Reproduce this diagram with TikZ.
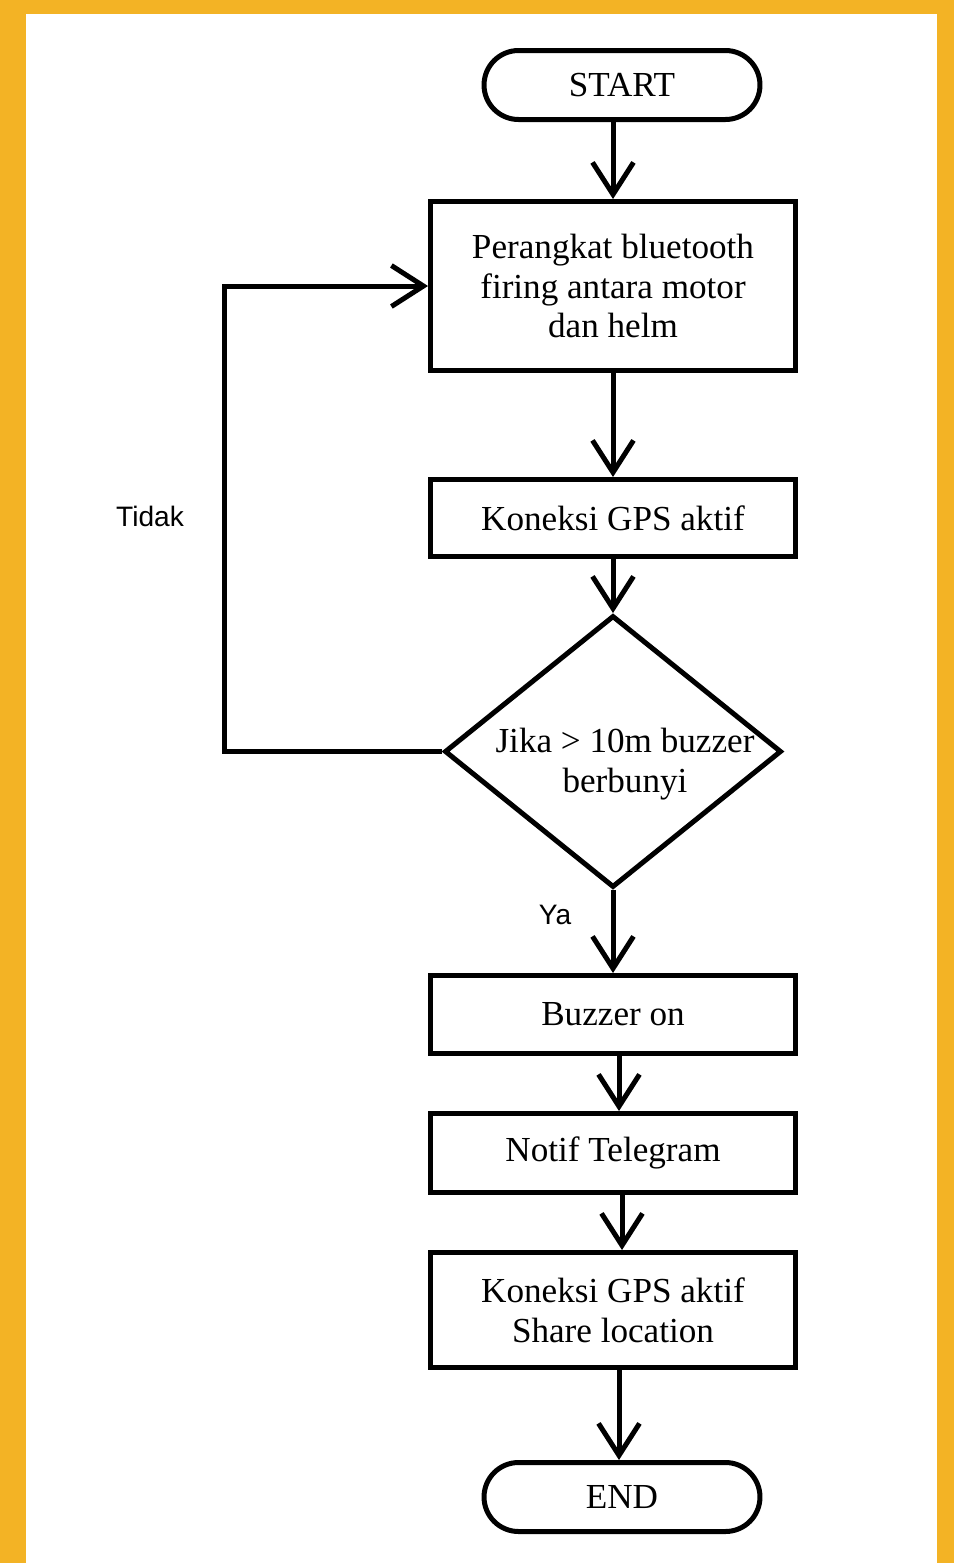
\documentclass[tikz,border=0pt]{standalone}
\usepackage{fontspec}
\setmainfont{Liberation Serif}
\setsansfont{Liberation Sans}
\usetikzlibrary{arrows.meta,shapes.misc,shapes.geometric}
\definecolor{oranye}{HTML}{F3B325}
\tikzset{
  garis/.style={line width=0.1cm},
  panah/.style={garis, -{Straight Barb[length=0.64cm,width=0.82cm]}},
  terminal/.style={rounded rectangle, draw, garis, minimum width=5.52cm, minimum height=1.38cm, inner sep=0pt, font=\fontsize{20}{22.7}\selectfont},
  proses/.style={rectangle, draw, garis, minimum width=7.3cm, inner sep=0pt, align=center, font=\fontsize{20}{22.7}\selectfont},
  keputusan/.style={diamond, draw, garis, minimum width=6.74cm, minimum height=5.44cm, inner sep=0pt},
  keterangan/.style={font=\sffamily\fontsize{16}{19}\selectfont}
}
\begin{document}
\begin{tikzpicture}[x=0.02cm, y=-0.02cm]
% latar
\useasboundingbox (0,0) rectangle (954,1563);
\fill[oranye] (0,0) rectangle (954,1563);
\fill[white] (26,14) rectangle (937,1563);
% mulai
\node[terminal] (start) at (622,85) {START};
% proses
\node[proses, minimum height=3.38cm] (p1) at (613,286) {Perangkat bluetooth\\firing antara motor\\dan helm};
\node[proses, minimum height=1.54cm] (p2) at (613,518) {Koneksi GPS aktif};
% keputusan
\node[keputusan] (cek) at (613,751.5) {};
\node[align=center, font=\fontsize{20}{22.7}\selectfont] (cekteks) at (625,764) {Jika > 10m buzzer\\berbunyi};
% output
\node[proses, minimum height=1.56cm] (b3) at (613,1014.5) {Buzzer on};
\node[proses, minimum height=1.58cm] (b4) at (613,1153) {Notif Telegram};
\node[proses, minimum height=2.3cm] (b5) at (613,1310) {Koneksi GPS aktif\\Share location};
% selesai
\node[terminal] (end) at (622,1497) {END};
% panah
\draw[panah] (start.south -| p1) -- (p1.north);
\draw[panah] (p1.south) -- (p2.north);
\draw[panah] (p2.south) -- (cek.north);
\draw[panah] (cek.south) -- (b3.north);
\draw[panah] ([xshift=0.12cm]b3.south) -- ([xshift=0.12cm]b4.north);
\draw[panah] ([xshift=0.18cm]b4.south) -- ([xshift=0.18cm]b5.north);
\draw[panah] ([xshift=0.12cm]b5.south) -- ([xshift=0.12cm]b5.south |- end.north);
% tidak kembali
\draw[panah] (cek.west) -- ++(-217.5,0) |- (p1.west);
\node[keterangan] (tidak) at (150,516) {Tidak};
\node[keterangan] (ya) at (555,915) {Ya};
\end{tikzpicture}
\end{document}
